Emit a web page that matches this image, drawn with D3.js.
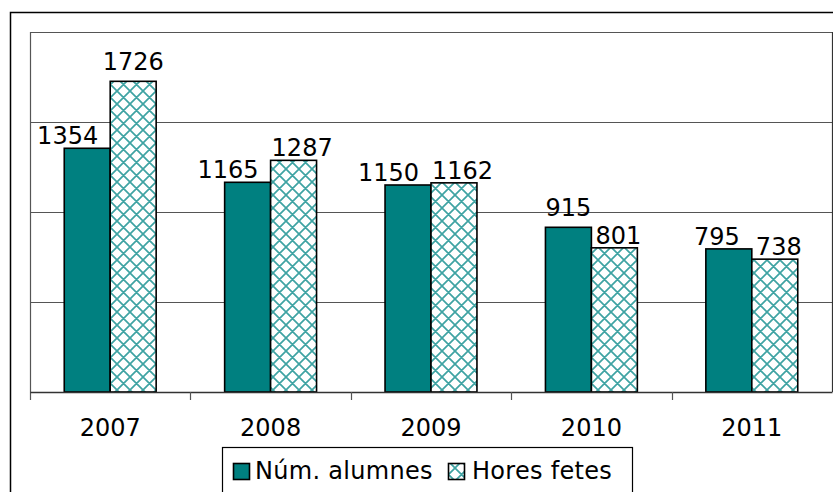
<!DOCTYPE html>
<html><head><meta charset="utf-8">
<script src="https://cdn.jsdelivr.net/npm/d3@7"></script>
<style>
html,body{margin:0;padding:0;background:#fff;}
svg{display:block;font-family:"DejaVu Sans",Verdana,sans-serif;}
</style></head>
<body>
<svg id="c" width="833" height="492"></svg>
<script>
const years = ["2007","2008","2009","2010","2011"];
const alumnes = [1354,1165,1150,915,795];
const hores = [1726,1287,1162,801,738];
const seriesNames = ["Núm. alumnes","Hores fetes"];
const yTicks = [500,1000,1500,2000];

const svg = d3.select("#c");
const teal = "#008080";
const hatch = "#3fa3a3";

const defs = svg.append("defs");
const pat = defs.append("pattern").attr("id","hx").attr("patternUnits","userSpaceOnUse")
  .attr("width",13).attr("height",13);
pat.append("rect").attr("width",13).attr("height",13).attr("fill","#fff");
pat.append("path").attr("d","M-1,-1 L14,14 M-1,12 L1,14 M12,-1 L14,1 M14,-1 L-1,14 M-1,1 L1,-1 M12,14 L14,12")
  .attr("stroke",hatch).attr("stroke-width",1.7).attr("fill","none");

// outer chart border
svg.append("path").attr("d","M834,12.5 H10.5 V493").attr("fill","none").attr("stroke","#000").attr("stroke-width",1.5);

const L=30, R=832, T=32, B=392;
const x = d3.scaleBand().domain(years).range([L,R]).padding(0);
const bw = x.bandwidth();
const xs = d3.scaleBand().domain(seriesNames).range([bw*0.2135, bw*0.7865]).padding(0);
const y = d3.scaleLinear().domain([0,2000]).range([B,T]);

// gridlines
svg.append("g").selectAll("line").data(yTicks).join("line")
  .attr("x1",L).attr("x2",R).attr("y1",d=>Math.round(y(d))+0.5).attr("y2",d=>Math.round(y(d))+0.5)
  .attr("stroke","#555").attr("stroke-width",1);
// plot right border and left axis
svg.append("line").attr("x1",R+0.5).attr("x2",R+0.5).attr("y1",T).attr("y2",B).attr("stroke","#333").attr("stroke-width",1.2);
svg.append("line").attr("x1",L+0.5).attr("x2",L+0.5).attr("y1",T).attr("y2",B+8).attr("stroke","#555").attr("stroke-width",1.2);

const data = years.map((yr,i)=>({yr, vals:[alumnes[i],hores[i]]}));
const g = svg.append("g");
data.forEach(d=>{
  d.vals.forEach((v,j)=>{
    g.append("rect")
      .attr("x",x(d.yr)+xs(seriesNames[j]))
      .attr("y",y(v))
      .attr("width",xs.bandwidth())
      .attr("height",y(0)-y(v))
      .attr("fill",j===0?teal:"url(#hx)")
      .attr("stroke","#000").attr("stroke-width",1.6);
  });
});

// x axis
const xAxis = d3.axisBottom(x).tickSize(0).tickPadding(27);
const ax = svg.append("g").attr("transform",`translate(0,${B})`).call(xAxis);
ax.select(".domain").attr("stroke","#333").attr("stroke-width",1.3);
ax.selectAll("text").attr("font-size",24).attr("fill","#000").attr("font-family","DejaVu Sans, Verdana, sans-serif");
svg.append("g").selectAll("line").data(years.slice(1)).join("line")
  .attr("x1",d=>Math.round(x(d))+0.5).attr("x2",d=>Math.round(x(d))+0.5)
  .attr("y1",B).attr("y2",B+8).attr("stroke","#555").attr("stroke-width",1.2);

// value labels with simple collision avoidance
const lg = svg.append("g").attr("font-size",24).attr("fill","#000");
data.forEach(d=>{
  const x0 = x(d.yr)+xs(seriesNames[0]), x1 = x(d.yr)+xs(seriesNames[1]), w = xs.bandwidth();
  const t0 = lg.append("text").text(d.vals[0]);
  const t1 = lg.append("text").text(d.vals[1]);
  const w0 = t0.node().getComputedTextLength(), w1 = t1.node().getComputedTextLength();
  const y0 = y(d.vals[0]), y1 = y(d.vals[1]);
  // default centered, baseline 11 above bar
  let b0 = {l:x0+w/2-w0/2, r:x0+w/2+w0/2, base:y0-11};
  let b1 = {l:x1+w/2-w1/2, r:x1+w/2+w1/2, base:y1-11};
  const vOverlap = Math.abs(b0.base-b1.base) < 17;
  const hOverlap = b0.r > b1.l - 4;
  const hatchTaller = y1 < b0.base;
  if (hatchTaller || (vOverlap && hOverlap)) { b0.r = x0+w-12; b0.l = b0.r-w0; b0.base = y0-4; }
  const hitsLabel = Math.abs(b0.base-b1.base) < 30 && b0.r > b1.l - 8;
  const hitsBar = b1.l < x0+w+2 && b1.base > y0-2;
  if (hitsLabel || hitsBar) { b1.l = Math.max(b1.l+4, x1+1); b1.base = y1-4; }
  t0.attr("x",b0.l).attr("y",b0.base);
  t1.attr("x",b1.l).attr("y",b1.base);
});

// legend
const leg = svg.append("g");
leg.append("rect").attr("x",222.5).attr("y",447.5).attr("width",410).attr("height",60)
  .attr("fill","#fff").attr("stroke","#000").attr("stroke-width",1.2);
leg.append("rect").attr("x",233.5).attr("y",463.5).attr("width",16).attr("height",16)
  .attr("fill",teal).attr("stroke","#000").attr("stroke-width",1.6);
leg.append("text").attr("x",255).attr("y",479).attr("font-size",24).attr("letter-spacing",0.3).text(seriesNames[0]);
leg.append("rect").attr("x",448.5).attr("y",463.5).attr("width",16).attr("height",16)
  .attr("fill","url(#hx)").attr("stroke","#000").attr("stroke-width",1.6);
leg.append("text").attr("x",472).attr("y",479).attr("font-size",24).attr("letter-spacing",0.3).text(seriesNames[1]);
</script>
</body></html>
